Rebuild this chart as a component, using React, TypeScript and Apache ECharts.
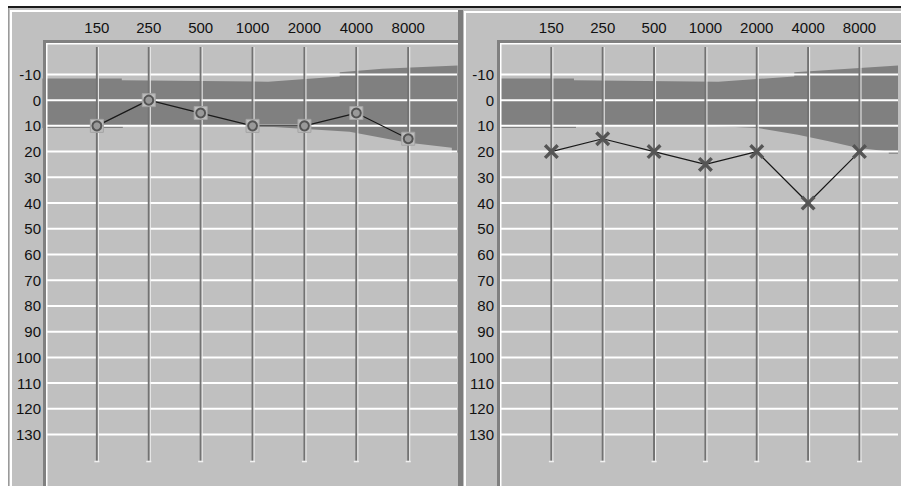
import React, { useEffect, useRef } from "react";
import * as echarts from "echarts";

// ---- data ----
const FREQ_LABELS = ["150", "250", "500", "1000", "2000", "4000", "8000"];
const FREQ_INDEX = [0, 1, 2, 3, 4, 5, 6];
const LEFT_DB = [10, 0, 5, 10, 10, 5, 15];
const RIGHT_DB = [20, 15, 20, 25, 20, 40, 20];
const DB_TICKS = [-10, 0, 10, 20, 30, 40, 50, 60, 70, 80, 90, 100, 110, 120, 130];

// shaded normal-range band (x in frequency-index units, y in dB)
const BAND_L_TOP_X = [-1.05, 0.48, 0.48, 3.3, 4.68, 4.68, 5.5, 6.95];
const BAND_L_TOP_DB = [-8.4, -8.4, -7.7, -7.2, -9.2, -10.8, -12.2, -13.5];
const BAND_L_BOT_X = [-1.05, 0.5, 0.5, 2.9, 4.87, 5.97, 6.84, 6.84, 6.95];
const BAND_L_BOT_DB = [10.8, 10.8, 9.8, 9.8, 12.3, 16.5, 18.5, 20.4, 20.4];
const BAND_R_TOP_X = [-1.05, 0.44, 0.44, 3.25, 4.73, 4.73, 6.75];
const BAND_R_TOP_DB = [-8.4, -8.4, -7.7, -7.2, -9.2, -10.8, -13.5];
const BAND_R_BOT_X = [-1.05, 0.48, 0.48, 2.8, 4.02, 4.8, 5.4, 5.95, 6.57, 6.57, 6.75];
const BAND_R_BOT_DB = [10.8, 10.8, 9.8, 9.8, 10.8, 13.5, 16, 18.5, 20.0, 20.8, 20.8];

// ---- styling constants ----
const FONT = "Liberation Sans";
const FONT_SIZE = 15;
const BG = "#c0c0c0";
const DARK = "#808080";
const VLINE_TOP_DB = -20.7;
const VLINE_BOTTOM_DB = 140.2;
const X_PATH =
  "path://M0,1.6 L1.6,0 L5,3.4 L8.4,0 L10,1.6 L6.6,5 L10,8.4 L8.4,10 L5,6.6 L1.6,10 L0,8.4 L3.4,5 Z";

function bandSeries(g: number, tx: number[], ty: number[], bx: number[], by: number[]) {
  return {
    type: "custom",
    xAxisIndex: g,
    yAxisIndex: g,
    z: 1,
    silent: true,
    data: [[0, 0]],
    renderItem: (_p: any, api: any) => {
      const pts: number[][] = [];
      tx.forEach((x, i) => pts.push(api.coord([x, ty[i]])));
      for (let i = bx.length - 1; i >= 0; i--) pts.push(api.coord([bx[i], by[i]]));
      return { type: "polygon", shape: { points: pts }, style: { fill: DARK } };
    },
  };
}

function gridLineSeries(g: number) {
  return {
    type: "custom",
    xAxisIndex: g,
    yAxisIndex: g,
    z: 2,
    silent: true,
    data: DB_TICKS.map((v) => [0, v]),
    renderItem: (p: any, api: any) => {
      const y = api.coord([0, api.value(1)])[1];
      const cs = p.coordSys;
      return {
        type: "rect",
        shape: { x: cs.x, y: y - 1, width: cs.width, height: 2 },
        style: { fill: "#ffffff" },
      };
    },
  };
}

function vLineSeries(g: number) {
  return {
    type: "custom",
    xAxisIndex: g,
    yAxisIndex: g,
    z: 3,
    silent: true,
    data: FREQ_INDEX.map((i) => [i, 0]),
    renderItem: (_p: any, api: any) => {
      const x = api.coord([api.value(0), 0])[0];
      const y1 = api.coord([0, VLINE_TOP_DB])[1];
      const y2 = api.coord([0, VLINE_BOTTOM_DB])[1];
      return {
        type: "group",
        children: [
          { type: "rect", shape: { x: x - 1, y: y1, width: 2, height: y2 - y1 }, style: { fill: "#727272" } },
          { type: "rect", shape: { x: x + 1, y: y1, width: 1, height: y2 - y1 + 1 }, style: { fill: "#f0f0f0" } },
          { type: "rect", shape: { x: x - 2.5, y: y2, width: 5, height: 1.5 }, style: { fill: "#f0f0f0" } },
        ],
      };
    },
  };
}

function xAxis(g: number, max: number) {
  return {
    gridIndex: g,
    type: "value",
    position: "top",
    min: -1,
    max,
    interval: 1,
    axisLine: { show: false },
    axisTick: { show: false },
    splitLine: { show: false },
    axisLabel: {
      margin: 14,
      color: "#111",
      fontFamily: FONT,
      fontSize: FONT_SIZE,
      formatter: (v: number) => {
        const i = FREQ_INDEX.indexOf(v);
        return i >= 0 ? FREQ_LABELS[i] : "";
      },
    },
  };
}

function yAxis(g: number, margin: number) {
  return {
    gridIndex: g,
    type: "value",
    inverse: true,
    min: -20,
    max: 150,
    interval: 10,
    axisLine: { show: false },
    axisTick: { show: false },
    splitLine: { show: false },
    axisLabel: {
      margin,
      color: "#111",
      fontFamily: FONT,
      fontSize: FONT_SIZE,
      formatter: (v: number) => (DB_TICKS.indexOf(v) >= 0 ? String(v) : ""),
    },
  };
}

const r = (x: number, y: number, w: number, h: number, fill: string, z = 100) => ({
  type: "rect",
  shape: { x, y, width: w, height: h },
  style: { fill },
  z,
  silent: true,
});

const chrome = [
  r(8, 6, 893, 480, BG, -10),
  r(8, 6, 893, 2, "#1c1c1c"),
  r(8, 8, 1, 478, "#9a9a9a"),
  r(10, 10, 2, 476, "#ffffff"),
  r(10, 10, 448, 2, "#ffffff"),
  r(458, 10, 5, 476, "#7c7c7c"),
  r(464, 11, 2, 475, "#ffffff"),
  r(464, 11, 437, 2, "#ffffff"),
  // left plot frame
  r(43, 40, 415, 3, DARK),
  r(43, 40, 3, 446, DARK),
  r(46, 43, 412, 1.5, "#ffffff"),
  r(46, 43, 1.5, 443, "#ffffff"),
  // right plot frame
  r(497, 40, 404, 3, DARK),
  r(497, 40, 3, 446, DARK),
  r(500, 43, 401, 1.5, "#ffffff"),
  r(500, 43, 1.5, 443, "#ffffff"),
];

export default function App() {
  const ref = useRef<HTMLDivElement>(null);
  useEffect(() => {
    const chart = echarts.init(ref.current!, null, { renderer: "svg" });
    chart.setOption({
      animation: false,
      backgroundColor: "#ffffff",
      textStyle: { fontFamily: FONT },
      graphic: { elements: chrome },
      grid: [
        { left: 45, top: 48.7, width: 412, height: 440 },
        { left: 500, top: 48.7, width: 401, height: 440 },
      ],
      xAxis: [xAxis(0, 6.94), xAxis(1, 6.75)],
      yAxis: [yAxis(0, 4), yAxis(1, 6)],
      series: [
        bandSeries(0, BAND_L_TOP_X, BAND_L_TOP_DB, BAND_L_BOT_X, BAND_L_BOT_DB),
        bandSeries(1, BAND_R_TOP_X, BAND_R_TOP_DB, BAND_R_BOT_X, BAND_R_BOT_DB),
        gridLineSeries(0),
        gridLineSeries(1),
        vLineSeries(0),
        vLineSeries(1),
        {
          type: "line",
          xAxisIndex: 0,
          yAxisIndex: 0,
          z: 5,
          silent: true,
          data: FREQ_INDEX.map((x, i) => [x, LEFT_DB[i]]),
          lineStyle: { color: "#1a1a1a", width: 1.3 },
          symbol: "rect",
          symbolSize: 13,
          itemStyle: { color: "#bcbcbc", borderColor: "#a4a4a4", borderWidth: 1 },
        },
        {
          type: "scatter",
          xAxisIndex: 0,
          yAxisIndex: 0,
          z: 6,
          silent: true,
          data: FREQ_INDEX.map((x, i) => [x, LEFT_DB[i]]),
          symbol: "circle",
          symbolSize: 9,
          itemStyle: { color: "#909090", borderColor: "#3e3e3e", borderWidth: 2 },
        },
        {
          type: "line",
          xAxisIndex: 1,
          yAxisIndex: 1,
          z: 5,
          silent: true,
          data: FREQ_INDEX.map((x, i) => [x, RIGHT_DB[i]]),
          lineStyle: { color: "#1a1a1a", width: 1.2 },
          symbol: X_PATH,
          symbolSize: 15,
          itemStyle: { color: "#555555" },
        },
      ],
    });
    return () => chart.dispose();
  }, []);
  return (
    <div
      ref={ref}
      style={{ position: "fixed", left: 0, top: 0, width: 901, height: 486, background: "#fff" }}
    />
  );
}
